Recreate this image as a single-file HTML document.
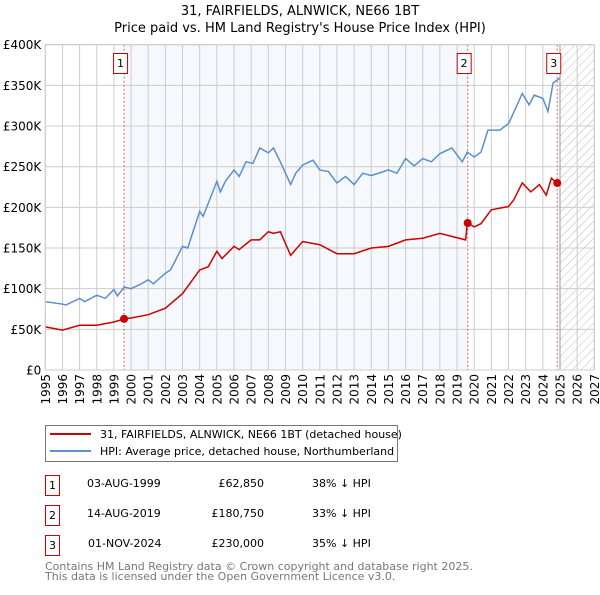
<!DOCTYPE html>
<html><head><meta charset="utf-8"><style>
body{margin:0;background:#fff;font-family:"Liberation Sans","DejaVu Sans",sans-serif}
svg text{font-family:"DejaVu Sans","Liberation Sans",sans-serif}
</style></head><body>
<svg id="c" width="600" height="590" xmlns="http://www.w3.org/2000/svg">
<defs><pattern id="hatch" width="6" height="6" patternUnits="userSpaceOnUse" patternTransform="rotate(45)"><line x1="0" y1="0" x2="0" y2="6" stroke="#bbb" stroke-width="1"/></pattern></defs>
<text x="300" y="15" text-anchor="middle" font-size="13">31, FAIRFIELDS, ALNWICK, NE66 1BT</text>
<text x="300" y="32" text-anchor="middle" font-size="13">Price paid vs. HM Land Registry's House Price Index (HPI)</text>
<g id="plot"></g>
<g>
<rect x="45.5" y="425.5" width="352" height="36" fill="#fff" stroke="#777"/>
<line x1="50" y1="434" x2="91" y2="434" stroke="#cc0000" stroke-width="2"/>
<text x="100" y="438" font-size="11">31, FAIRFIELDS, ALNWICK, NE66 1BT (detached house)</text>
<line x1="50" y1="451" x2="91" y2="451" stroke="#5b8fd0" stroke-width="2"/>
<text x="100" y="455" font-size="11">HPI: Average price, detached house, Northumberland</text>
</g>
<g font-size="11">
<rect x="45.5" y="475.5" width="14" height="20" fill="none" stroke="#cc0000"/><text x="52.5" y="489" text-anchor="middle">1</text>
<text x="87" y="487">03-AUG-1999</text><text x="264" y="487" text-anchor="end">£62,850</text><text x="312" y="487">38% ↓ HPI</text>
<rect x="45.5" y="505.5" width="14" height="20" fill="none" stroke="#cc0000"/><text x="52.5" y="519" text-anchor="middle">2</text>
<text x="87" y="517">14-AUG-2019</text><text x="264" y="517" text-anchor="end">£180,750</text><text x="312" y="517">33% ↓ HPI</text>
<rect x="45.5" y="535.5" width="14" height="20" fill="none" stroke="#cc0000"/><text x="52.5" y="549" text-anchor="middle">3</text>
<text x="88" y="547">01-NOV-2024</text><text x="264" y="547" text-anchor="end">£230,000</text><text x="312" y="547">35% ↓ HPI</text>
</g>
<text x="45" y="570" font-size="11" fill="#777">Contains HM Land Registry data © Crown copyright and database right 2025.</text>
<text x="45" y="580" font-size="11" fill="#777">This data is licensed under the Open Government Licence v3.0.</text>
</svg>
<script>
const hpiYears=[1995,1996,1996.2,1997,1997.3,1998,1998.5,1999,1999.2,1999.6,2000,2000.5,2001,2001.3,2002,2002.3,2003,2003.3,2004,2004.2,2004.5,2005,2005.2,2005.5,2006,2006.3,2006.7,2007.1,2007.5,2008,2008.3,2008.7,2009.3,2009.6,2010,2010.6,2011,2011.5,2012,2012.5,2013,2013.5,2014,2015,2015.5,2016,2016.5,2017,2017.5,2018,2018.7,2019.3,2019.6,2020,2020.4,2020.8,2021.5,2022,2022.2,2022.8,2023.2,2023.5,2024,2024.3,2024.6,2025];
const hpiValues=[84,81,80,88,84,92,88,99,91,102,100,105,111,106,119,123,152,150,195,189,205,232,219,232,246,238,256,254,273,267,273,256,228,242,252,258,246,244,230,238,228,242,239,246,242,260,251,260,256,266,273,256,268,262,268,295,295,303,312,340,326,338,334,318,353,359];
const priceYears=[1995,1996,1997,1998,1999,1999.6,2000,2001,2002,2003,2004,2004.5,2005,2005.3,2006,2006.3,2007,2007.5,2008,2008.3,2008.7,2009.3,2010,2011,2012,2013,2014,2015,2016,2017,2018,2019.5,2019.6,2020,2020.4,2021,2022,2022.3,2022.8,2023.3,2023.8,2024.2,2024.5,2024.8];
const priceValues=[53,49,55,55,59,62.85,64,68,76,94,123,127,146,137,152,148,160,160,170,168,170,141,158,154,143,143,150,152,160,162,168,160,180.75,176,180,197,201,209,230,219,228,215,236,230];
const saleYears=[1999.59,2019.62,2024.84];
const saleValues=[62.85,180.75,230];
const saleLabels=["1","2","3"];
const yTicks=[0,50,100,150,200,250,300,350,400];
const yTickLabels=["£0","£50K","£100K","£150K","£200K","£250K","£300K","£350K","£400K"];
const xTicks=[1995,1996,1997,1998,1999,2000,2001,2002,2003,2004,2005,2006,2007,2008,2009,2010,2011,2012,2013,2014,2015,2016,2017,2018,2019,2020,2021,2022,2023,2024,2025,2026,2027];

const NS="http://www.w3.org/2000/svg";
const X0=45.3,X1=594.3,Y0=370,Y1=44.7;
const sx=y=>X0+(y-1995)/(2027-1995)*(X1-X0);
const sy=v=>Y0-v/400*(Y0-Y1);
const g=document.getElementById('plot');
function mk(t,a){const e=document.createElementNS(NS,t);for(const k in a)e.setAttribute(k,a[k]);g.appendChild(e);return e;}
const shade=mk('rect',{x:sx(saleYears[0]),y:Y1,width:sx(saleYears[1])-sx(saleYears[0]),height:Y0-Y1,fill:'#eef3fc',opacity:0.6});


const hat=mk('rect',{x:sx(2025),y:Y1,width:sx(2027)-sx(2025),height:Y0-Y1,fill:'url(#hatch)'});


xTicks.forEach(t=>{const l=mk('line',{x1:sx(t),x2:sx(t),y1:Y1,y2:Y0,stroke:'#ccc'});


const tx=mk('text',{x:0,y:0,'font-size':12,'text-anchor':'end',transform:`translate(${sx(t)+4.5},${Y0+4}) rotate(-90)`});tx.textContent=t;

});
yTicks.forEach((t,i)=>{const l=mk('line',{x1:X0,x2:X1,y1:sy(t),y2:sy(t),stroke:'#ccc'});


const tx=mk('text',{x:X0-4,y:sy(t)+4.5,'font-size':12,'text-anchor':'end'});tx.textContent=yTickLabels[i];

});
const ed=mk('line',{x1:sx(2025),x2:sx(2025),y1:Y1,y2:Y0,stroke:'#999'});


saleYears.forEach((y,i)=>{const l=mk('line',{x1:sx(y),x2:sx(y),y1:Y1,y2:Y0,stroke:'#e06070','stroke-dasharray':'2,2'});


const r=mk('rect',{x:sx(y)-10.5,y:53.5,width:14,height:20,fill:'#fff',stroke:'#cc0000'});


const tx=mk('text',{x:sx(y)-3.5,y:67,'font-size':11,'text-anchor':'middle'});tx.textContent=saleLabels[i];

});
const hp=mk('polyline',{points:hpiYears.map((y,i)=>sx(y)+','+sy(hpiValues[i])).join(' '),fill:'none',stroke:'#5b8fd0','stroke-width':1.5});


const pp=mk('polyline',{points:priceYears.map((y,i)=>sx(y)+','+sy(priceValues[i])).join(' '),fill:'none',stroke:'#cc0000','stroke-width':1.5});


saleYears.forEach((y,i)=>{const c=mk('circle',{cx:sx(y),cy:sy(saleValues[i]),r:4,fill:'#cc0000'});

});
const fr=mk('rect',{x:X0,y:Y1,width:X1-X0,height:Y0-Y1,fill:'none',stroke:'#ccc'});


</script>
</body></html>
